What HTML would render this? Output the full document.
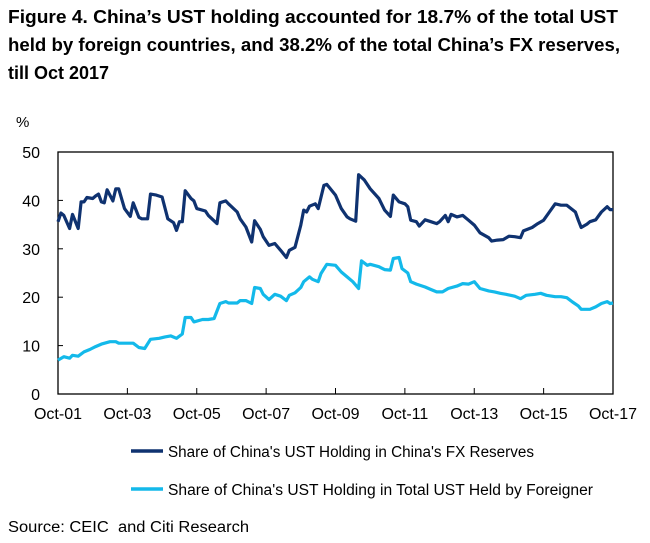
<!DOCTYPE html>
<html><head><meta charset="utf-8"><style>
body{margin:0;background:#fff;width:650px;height:543px;overflow:hidden;font-family:"Liberation Sans",Arial,sans-serif}
</style></head><body>
<svg id="chart" width="650" height="543" style="position:absolute;left:0;top:0">
<g font-weight="bold" font-size="18" fill="#000">
<text x="8" y="23" textLength="610" lengthAdjust="spacingAndGlyphs">Figure 4. China’s UST holding accounted for 18.7% of the total UST</text>
<text x="8" y="51" textLength="612" lengthAdjust="spacingAndGlyphs">held by foreign countries, and 38.2% of the total China’s FX reserves,</text>
<text x="8" y="79" textLength="101" lengthAdjust="spacingAndGlyphs">till Oct 2017</text>
</g>
</svg>
<script>
const tickLabels=["Oct-01","Oct-03","Oct-05","Oct-07","Oct-09","Oct-11","Oct-13","Oct-15","Oct-17"];
const yTicks=[0,10,20,30,40,50];
const fxMonths=[0,1,2,4,5,7,8,9,10,12,13,14,15,16,17,19,20,21,23,25,26,28,29,31,32,34,36,38,40,41,42,43,44,46,47,48,51,52,55,56,58,59,62,63,65,67,68,70,71,73,75,77,79,80,82,84,85,86,87,89,90,92,93,96,98,100,101,103,104,106,108,111,113,115,116,118,120,121,122,124,125,127,129,131,132,134,135,136,138,140,142,144,146,149,150,152,154,156,158,160,161,164,166,168,170,172,174,176,179,180,181,183,184,186,188,190,191,192];
const fxValues=[35.6,37.4,36.9,34.2,37.1,34.2,39.7,39.7,40.6,40.4,40.9,41.3,39.7,39.5,42.2,39.9,42.4,42.4,38.3,36.7,39.5,36.5,36.2,36.2,41.3,41.1,40.7,36.2,35.4,33.8,35.6,35.6,42.0,40.4,39.9,38.3,37.8,36.9,35.2,39.5,39.9,39.3,37.6,36.2,34.5,31.4,35.8,34.0,32.5,30.7,31.1,29.7,28.2,29.7,30.3,34.9,38.0,37.6,38.8,39.3,38.3,43.1,43.3,41.1,38.3,36.6,36.2,35.7,45.3,44.2,42.4,40.4,38.0,36.7,41.1,39.7,39.3,38.7,35.9,35.6,34.7,36.0,35.6,35.2,35.6,36.9,35.6,37.1,36.6,36.9,35.9,34.9,33.3,32.3,31.6,31.8,31.9,32.6,32.5,32.3,33.7,34.4,35.2,35.9,37.6,39.3,39.0,39.0,37.6,35.9,34.4,35.1,35.6,36.0,37.6,38.7,38.1,38.1];
const frMonths=[0,2,4,5,7,9,11,13,15,18,20,21,24,26,28,30,32,35,37,39,41,43,44,46,47,50,52,54,56,58,59,62,63,65,67,68,70,71,73,75,77,79,80,82,84,85,87,88,90,91,93,96,98,100,102,104,105,107,108,111,113,115,116,118,119,121,122,124,127,129,131,133,135,138,140,142,144,146,149,151,153,155,158,160,162,165,167,169,172,174,176,178,180,181,184,186,188,190,191,192];
const frValues=[7.0,7.7,7.4,8.0,7.8,8.7,9.2,9.8,10.3,10.8,10.8,10.5,10.5,10.5,9.6,9.4,11.3,11.5,11.8,12.0,11.5,12.4,15.8,15.8,14.9,15.4,15.4,15.6,18.7,19.1,18.8,18.8,19.3,19.3,18.7,22.0,21.8,20.6,19.5,20.6,20.2,19.3,20.4,20.9,22.0,23.2,24.2,23.7,23.2,24.9,26.8,26.6,25.2,24.2,23.2,21.8,27.5,26.6,26.8,26.3,25.7,25.6,28.0,28.2,25.9,25.0,23.2,22.7,22.1,21.6,21.1,21.1,21.8,22.3,22.8,22.7,23.2,21.8,21.3,21.1,20.8,20.6,20.2,19.7,20.4,20.6,20.8,20.4,20.1,20.1,19.9,19.0,18.2,17.5,17.5,18.0,18.7,19.1,18.7,18.8];
const L=58,R=613,T=152,B=394;
const xs=m=>L+m*(R-L)/192;
const ys=v=>B-v*(B-T)/50;
const svg=document.getElementById('chart');
const NS='http://www.w3.org/2000/svg';
function mk(tag,at){const e=document.createElementNS(NS,tag);for(const k in at)e.setAttribute(k,at[k]);svg.appendChild(e);return e;}
let frame=mk('rect',{x:L,y:T,width:R-L,height:B-T,fill:'none',stroke:'#000','stroke-width':1.3});


yTicks.forEach(v=>{
  let t=mk('line',{x1:L,x2:L+5,y1:ys(v),y2:ys(v),stroke:'#000'});
  
  
  let l=mk('text',{x:L-18,y:ys(v)+6,'text-anchor':'end','font-size':16,fill:'#000'});
  l.textContent=v;
  
  
});
tickLabels.forEach((s,i)=>{
  const x=xs(i*24);
  let t=mk('line',{x1:x,x2:x,y1:B,y2:B-6,stroke:'#000'});
  
  
  let l=mk('text',{x:x,y:B+25,'text-anchor':'middle','font-size':16,fill:'#000'});
  l.textContent=s;
  
  
});
let pc=mk('text',{x:16,y:127,'font-size':15,fill:'#000'});pc.textContent='%';


function line(ms,vs,col,name){
  const d=ms.map((m,i)=>(i?'L':'M')+xs(m).toFixed(1)+','+ys(vs[i]).toFixed(1)).join('');
  let p=mk('path',{d:d,fill:'none',stroke:col,'stroke-width':3.2,'stroke-linejoin':'round'});
  
  
}
line(fxMonths,fxValues,'#0f3270','series-fx-reserves-share');
line(frMonths,frValues,'#13b9ea','series-foreign-held-share');
function leg(y,col,txt,len,name){
  let g=mk('line',{x1:131,x2:163,y1:y,y2:y,stroke:col,'stroke-width':3.5});
  
  
  let t=mk('text',{x:168,y:y+6,'font-size':15.5,fill:'#000',textLength:len,lengthAdjust:'spacingAndGlyphs'});t.textContent=txt;
  
  
}
leg(451,'#0f3270',"Share of China's UST Holding in China's FX Reserves",366,'legend-fx');
leg(489,'#13b9ea',"Share of China's UST Holding in Total UST Held by Foreigner",425,'legend-foreign');
let src=mk('text',{x:8,y:532,'font-size':15.5,fill:'#000',textLength:241,lengthAdjust:'spacingAndGlyphs'});src.textContent='Source: CEIC\u00a0 and Citi Research';


</script>
</body></html>
